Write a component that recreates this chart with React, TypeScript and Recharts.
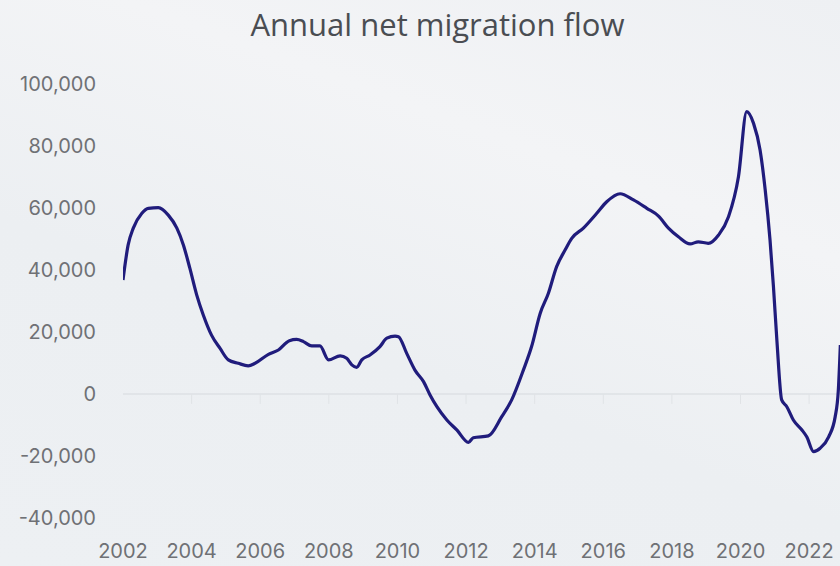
import { LineChart, Line, XAxis, YAxis, ReferenceLine } from 'recharts';

// Rolling annual net migration, sampled from the published series (decimal years).
const years = [
  2002.0, 2002.15, 2002.3, 2002.55, 2002.74, 2003.03, 2003.32, 2003.57, 2003.76, 2003.95,
  2004.15, 2004.34, 2004.58, 2004.83, 2005.07, 2005.36, 2005.65, 2005.85, 2006.24, 2006.53,
  2006.85, 2007.06, 2007.26, 2007.5, 2007.74, 2007.99, 2008.33, 2008.52, 2008.67, 2008.81,
  2008.96, 2009.2, 2009.49, 2009.69, 2009.93, 2010.03, 2010.27, 2010.51, 2010.76, 2010.95,
  2011.15, 2011.44, 2011.73, 2012.07, 2012.21, 2012.65, 2013.04, 2013.33, 2013.67, 2013.91,
  2014.16, 2014.4, 2014.64, 2014.89, 2015.08, 2015.42, 2015.81, 2016.1, 2016.49, 2016.88,
  2017.27, 2017.61, 2017.9, 2018.19, 2018.53, 2018.77, 2019.06, 2019.36, 2019.65, 2019.94,
  2020.18, 2020.38, 2020.57, 2020.72, 2020.86, 2020.96, 2021.06, 2021.2, 2021.35, 2021.54,
  2021.79, 2021.93, 2022.13, 2022.32, 2022.57, 2022.76, 2022.85, 2022.91,
];

const netFlow = [
  36800, 48100, 53500, 58300, 59900, 60100, 57700, 53500, 48100, 40500,
  31900, 25500, 19000, 14700, 11000, 9900, 9100, 9900, 12800, 14200,
  17200, 17600, 16900, 15500, 15500, 11000, 12300, 11500, 9400, 8600,
  11000, 12600, 15300, 18000, 18700, 18500, 13100, 7700, 4000, -300,
  -4100, -8400, -11600, -15600, -14100, -13500, -7300, -1900, 7700, 15300,
  26000, 32500, 41100, 46500, 50200, 53500, 58300, 62000, 64600, 62600,
  59900, 57400, 53500, 50700, 48400, 49100, 48600, 51300, 57200, 70100,
  91100, 87300, 78700, 65800, 49700, 34600, 17400, -1900, -4100, -8400,
  -11600, -13800, -18600, -17500, -13800, -7300, 1000, 15800,
];

const xTicks = [2002, 2004, 2006, 2008, 2010, 2012, 2014, 2016, 2018, 2020, 2022];
const yTicks = [-40000, -20000, 0, 20000, 40000, 60000, 80000, 100000];
const minorTicks = xTicks.slice(1);

const data = years.map((year, i) => ({ year, value: netFlow[i] }));

const W = 840;
const H = 566;
const tickStyle = { fontFamily: 'Inter, sans-serif', fontSize: 20, fill: '#6f7175' };

export default function App() {
  return (
    <div
      style={{
        position: 'fixed',
        left: 0,
        top: 0,
        width: W,
        height: H,
        overflow: 'hidden',
        background: 'linear-gradient(200deg, #eef0f3 0%, #f3f4f6 30%, #eceff2 60%, #edf0f3 100%)',
      }}
    >
      <div
        style={{
          position: 'absolute',
          top: 9,
          left: 0,
          width: 875,
          textAlign: 'center',
          fontFamily: '"Open Sans", sans-serif',
          fontSize: 31,
          lineHeight: 1,
          color: '#4a4d52',
        }}
      >
        Annual net migration flow
      </div>
      <LineChart width={W} height={H} data={data} margin={{ top: 84, right: 0, bottom: 0, left: 0 }}>
        <XAxis
          dataKey="year"
          type="number"
          domain={[2002, 2022.9]}
          allowDataOverflow
          ticks={xTicks}
          axisLine={false}
          tickLine={false}
          tickSize={0}
          tickMargin={26}
          height={48}
          tick={tickStyle}
          interval={0}
        />
        <YAxis
          domain={[-40000, 100000]}
          ticks={yTicks}
          axisLine={false}
          tickLine={false}
          tickSize={0}
          tickMargin={27}
          width={123}
          tick={tickStyle}
          interval={0}
          tickFormatter={(v: number) => v.toLocaleString('en-US')}
        />
        <ReferenceLine y={0} stroke="#d6d9dd" strokeWidth={1.2} />
        {minorTicks.map((t) => (
          <ReferenceLine
            key={t}
            segment={[{ x: t, y: 0 }, { x: t, y: -3200 }]}
            stroke="#e0e3e6"
            strokeWidth={1}
          />
        ))}
        <Line
          type="monotone"
          dataKey="value"
          stroke="#201c7c"
          strokeWidth={3.2}
          dot={false}
          isAnimationActive={false}
        />
      </LineChart>
    </div>
  );
}
